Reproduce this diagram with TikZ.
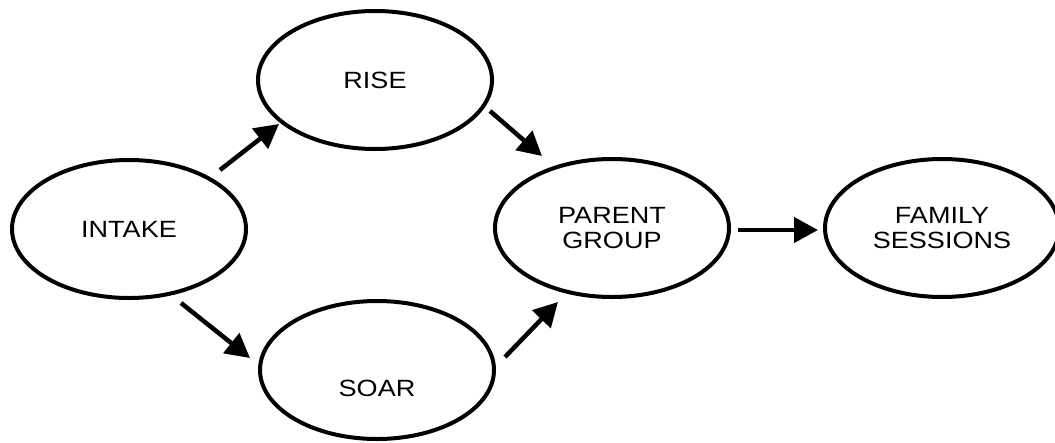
\documentclass[tikz,border=0pt]{standalone}
\usepackage{fontspec}
\setmainfont{Liberation Sans}[FakeStretch=1.15]
\usetikzlibrary{arrows.meta,shapes.geometric}
\begin{document}
\begin{tikzpicture}[x=1pt,y=-1pt,
  stage/.style={ellipse,draw=black,line width=4pt,minimum width=234pt,minimum height=138pt,inner sep=0pt,
    font=\fontsize{23.5}{25.5}\selectfont,align=center,text=black},
  arr/.style={line width=4.5pt,-{Triangle[length=24pt,width=25pt]}}]
\useasboundingbox (0,0) rectangle (1055,442);
\node[stage] (intake) at (129,229) {INTAKE};
\node[stage] (rise) at (375,80) {RISE};
\node[stage] (soar) at (377,370) {\raisebox{-26pt}[0pt][0pt]{SOAR}};
\node[stage] (parent) at (612,228) {PARENT\\GROUP};
\node[stage] (family) at (942,228) {FAMILY\\SESSIONS};
\coordinate (a1s) at (220,170); \coordinate (a1e) at (279,124);
\coordinate (a2s) at (490,111); \coordinate (a2e) at (542,156);
\coordinate (a3s) at (181,303); \coordinate (a3e) at (250,358);
\coordinate (a4s) at (505,357); \coordinate (a4e) at (558,302);
\coordinate (a5s) at (738,230); \coordinate (a5e) at (818,230);
\draw[arr] (a1s) -- (a1e);
\draw[arr] (a2s) -- (a2e);
\draw[arr] (a3s) -- (a3e);
\draw[arr] (a4s) -- (a4e);
\draw[arr] (a5s) -- (a5e);
\end{tikzpicture}
\end{document}
